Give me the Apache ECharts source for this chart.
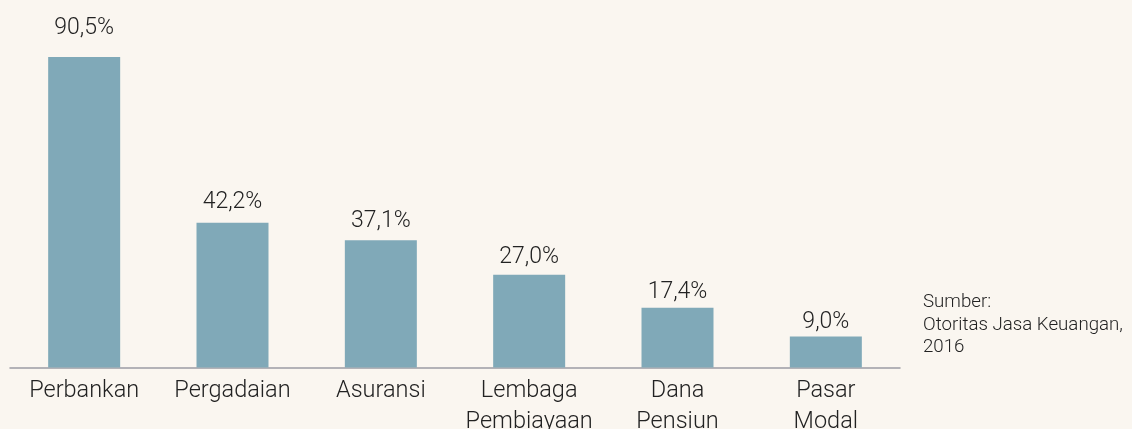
<!DOCTYPE html>
<html>
<head>
<meta charset="utf-8">
<script src="https://cdn.jsdelivr.net/npm/echarts@6/dist/echarts.min.js"></script>
<style>
html,body{margin:0;padding:0;background:#faf6f0;overflow:hidden;}
#chart{width:1132px;height:429px;}
</style>
</head>
<body>
<div id="chart"></div>
<script>
const categories = ['Perbankan', 'Pergadaian', 'Asuransi', 'Lembaga\nPembiayaan', 'Dana\nPensiun', 'Pasar\nModal'];
const values = [90.5, 42.2, 37.1, 27.0, 17.4, 9.0];
const sourceLines = ['Sumber:', 'Otoritas Jasa Keuangan,', '2016'];

const chart = echarts.init(document.getElementById('chart'));
chart.setOption({
  backgroundColor: '#faf6f0',
  animation: false,
  grid: { left: 10, right: 232, top: 57, bottom: 61.5, containLabel: false, outerBoundsMode: 'none' },
  xAxis: {
    type: 'category',
    data: categories,
    axisLine: { lineStyle: { color: '#9c9ca4', width: 1.5 } },
    axisTick: { show: false },
    axisLabel: {
      interval: 0,
      color: '#222',
      fontFamily: 'Roboto',
      fontWeight: 300,
      fontSize: 23.5,
      lineHeight: 30.5,
      margin: 8.5
    }
  },
  yAxis: {
    type: 'value',
    min: 0,
    max: 90.5,
    show: false,
    splitLine: { show: false }
  },
  series: [{
    type: 'bar',
    data: values.map(v => ({ value: v, label: { distance: 1.5 + 0.17 * v } })),
    barWidth: 72,
    itemStyle: { color: '#80a9b8' },
    label: {
      show: true,
      position: 'top',
      color: '#222',
      fontFamily: 'Roboto',
      fontWeight: 300,
      fontSize: 23,
      formatter: p => p.value.toFixed(1).replace('.', ',') + '%'
    }
  }],
  graphic: [{
    type: 'text',
    left: 923,
    top: 291.5,
    style: {
      text: sourceLines.join('\n'),
      fill: '#222',
      font: '300 18.7px Roboto',
      lineHeight: 22.5
    }
  }]
});
</script>
</body>
</html>
